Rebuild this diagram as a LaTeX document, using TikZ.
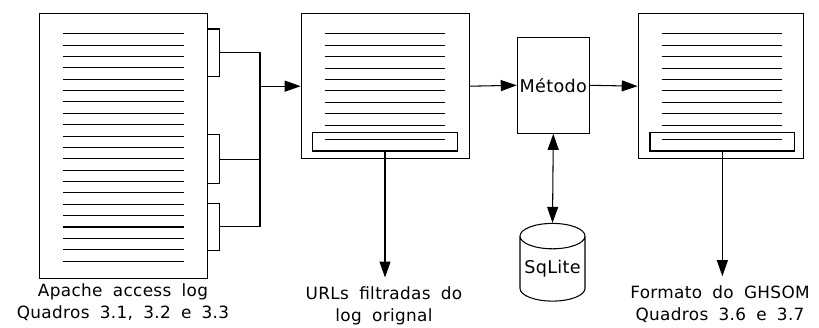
\documentclass[tikz,border=0pt]{standalone}
\usepackage{fontspec}
\setmainfont{DejaVu Sans}[WordSpace=1.8, LetterSpace=2.0]
\usetikzlibrary{arrows.meta, positioning, shapes.geometric}

\begin{document}
\begin{tikzpicture}

  % Define styles
  \tikzstyle{page} = [rectangle, draw, line width=0.6pt, inner sep=0pt]
  \tikzstyle{row} = [draw, line width=0.6pt]
  \tikzstyle{arr} = [draw, line width=0.6pt, -{Triangle[length=3.2mm, width=2.2mm]}]
  \tikzstyle{caption_txt} = [align=center, inner sep=0pt, font=\fontsize{9.6}{12.5}\selectfont]

  \useasboundingbox (0,0) rectangle (16.38,6.54);

  % Apache access log
  \node[page, minimum width=3.366cm, minimum height=5.288cm, anchor=north west] (log) at (0.78, 6.274) {};
  \foreach \i in {0,...,20}
    \draw[row] (1.266, 5.866-\i*0.2274) -- (3.68, 5.866-\i*0.2274);

  % Brackets on the log
  \draw[row] (4.146, 5.96) -| (4.386, 5.006) -- (4.146, 5.006);
  \draw[row] (4.146, 3.846) -| (4.386, 2.874) -- (4.146, 2.874);
  \draw[row] (4.146, 2.474) -| (4.386, 1.526) -- (4.146, 1.526);

  \coordinate (b1) at (4.386, 5.494);
  \coordinate (b2) at (4.386, 3.354);
  \coordinate (b3) at (4.386, 2.006);
  \coordinate (joint) at (5.2, 0);

  \draw[row] (b1) -- (b1 -| joint) -- (b3 -| joint) -- (b3);
  \draw[row] (b2) -- (b2 -| joint);

  \node[caption_txt] (apache) at (2.46, 0.5) {Apache access log\\Quadros 3.1, 3.2 e 3.3};

  % URLs filtradas
  \node[page, minimum width=3.366cm, minimum height=2.894cm, anchor=north west] (urls) at (6.014, 6.274) {};
  \foreach \i in {0,...,8}
    \draw[row] (6.494, 5.866-\i*0.229) -- (8.894, 5.866-\i*0.229);
  \node[page, minimum width=2.908cm, minimum height=0.374cm] (sel1) at (7.7, 3.707) {};
  \draw[row] (6.494, 3.746) -- (8.894, 3.746);

  \node[caption_txt] (urls_txt) at (7.68, 0.42) {URLs filtradas do\\log orignal};

  % Metodo and database
  \node[page, minimum width=1.44cm, minimum height=1.92cm, font=\fontsize{10}{12}\selectfont] (metodo) at (11.066, 4.834) {Método};
  \node[cylinder, draw, line width=0.6pt, shape border rotate=90, aspect=0.45,
        minimum width=1.3cm, minimum height=1.554cm, inner sep=0pt,
        font=\fontsize{10}{12}\selectfont] (db) at (11.05, 1.163) {SqLite};

  % Formato do GHSOM
  \node[page, minimum width=3.306cm, minimum height=2.894cm, anchor=north west] (ghsom) at (12.754, 6.274) {};
  \foreach \i in {0,...,8}
    \draw[row] (13.234, 5.866-\i*0.229) -- (15.64, 5.866-\i*0.229);
  \node[page, minimum width=2.894cm, minimum height=0.374cm] (sel2) at (14.447, 3.707) {};
  \draw[row] (13.234, 3.746) -- (15.64, 3.746);

  \node[caption_txt] (ghsom_txt) at (14.4, 0.46) {Formato do GHSOM\\Quadros 3.6 e 3.7};

  % Connections
  \draw[arr] (joint |- urls.west) -- (urls.west);
  \draw[arr] (urls.east) -- (metodo.west);
  \draw[arr] (metodo.east) -- (ghsom.west);
  \draw[arr, {Triangle[length=3.2mm, width=2.2mm]}-{Triangle[length=3.2mm, width=2.2mm]}] (metodo.south) -- (db.top);
  \draw[arr] (sel1.south) -- ([yshift=0.18cm]sel1.south |- urls_txt.north);
  \draw[arr] (sel2.south) -- ([yshift=0.18cm]sel2.south |- ghsom_txt.north);

\end{tikzpicture}
\end{document}
